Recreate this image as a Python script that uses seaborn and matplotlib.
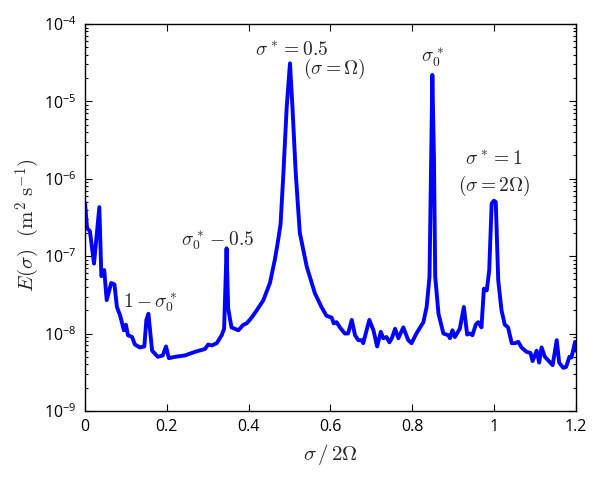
import numpy as np
import pandas as pd
import matplotlib
matplotlib.use("Agg")
import matplotlib.pyplot as plt
import seaborn as sns
from matplotlib.ticker import LogLocator, FixedLocator, NullFormatter

freq = [0.000, 0.005, 0.012, 0.022, 0.035, 0.040, 0.047, 0.053, 0.064, 0.072,
        0.078, 0.086, 0.095, 0.100, 0.105, 0.115, 0.122, 0.134, 0.145, 0.150,
        0.155, 0.159, 0.164, 0.178, 0.190, 0.198, 0.205, 0.220, 0.244, 0.269,
        0.293, 0.301, 0.310, 0.322, 0.334, 0.340, 0.346, 0.350, 0.358, 0.375,
        0.387, 0.395, 0.407, 0.420, 0.436, 0.452, 0.464, 0.472, 0.478, 0.485,
        0.493, 0.501, 0.507, 0.515, 0.525, 0.542, 0.562, 0.578, 0.590, 0.603,
        0.608, 0.615, 0.623, 0.635, 0.643, 0.652, 0.660, 0.668, 0.676, 0.680,
        0.695, 0.705, 0.714, 0.723, 0.729, 0.737, 0.744, 0.750, 0.758, 0.766,
        0.778, 0.790, 0.798, 0.810, 0.827, 0.835, 0.842, 0.846, 0.849, 0.853,
        0.856, 0.864, 0.876, 0.888, 0.892, 0.898, 0.904, 0.916, 0.926, 0.934,
        0.941, 0.947, 0.955, 0.961, 0.969, 0.975, 0.982, 0.988, 0.994, 0.9995,
        1.004, 1.010, 1.018, 1.026, 1.034, 1.043, 1.051, 1.059, 1.067, 1.079,
        1.089, 1.094, 1.104, 1.110, 1.116, 1.124, 1.132, 1.143, 1.153, 1.159,
        1.169, 1.176, 1.184, 1.189, 1.198, 1.200]

energy = [4.9e-7, 2.3e-7, 2.1e-7, 8e-8, 4.3e-7, 5.5e-8, 6.6e-8, 2.7e-8, 4.5e-8, 4.3e-8,
          2.2e-8, 1.7e-8, 1.1e-8, 1.3e-8, 9.5e-9, 9e-9, 7.2e-9, 6.6e-9, 6.8e-9, 1.5e-8,
          1.8e-8, 1.1e-8, 6e-9, 5e-9, 5.2e-9, 6.8e-9, 4.8e-9, 5e-9, 5.2e-9, 5.8e-9,
          6.3e-9, 7.2e-9, 7e-9, 7.5e-9, 9.5e-9, 1.15e-8, 1.26e-7, 2.1e-8, 1.2e-8, 1.1e-8,
          1.3e-8, 1.35e-8, 1.6e-8, 2e-8, 2.7e-8, 4.5e-8, 9e-8, 1.6e-7, 2.6e-7, 1.2e-6,
          8.5e-6, 3.1e-5, 8.5e-6, 1.2e-6, 2e-7, 7.3e-8, 3.3e-8, 2.2e-8, 1.7e-8, 1.6e-8,
          1.35e-8, 1.4e-8, 1.2e-8, 1e-8, 1e-8, 1.5e-8, 9.5e-9, 8.2e-9, 8.2e-9, 7.5e-9,
          1.5e-8, 1.1e-8, 6.8e-9, 1.05e-8, 8.7e-9, 9e-9, 7.7e-9, 8.7e-9, 1.15e-8, 8.7e-9,
          1.2e-8, 8.2e-9, 7.5e-9, 1e-8, 1.4e-8, 2.2e-8, 5.4e-8, 1.75e-6, 2.2e-5, 1.75e-6,
          5.4e-8, 1.8e-8, 1e-8, 9.5e-9, 8.7e-9, 1.1e-8, 9e-9, 1.15e-8, 2.2e-8, 9.7e-9,
          1e-8, 9.5e-9, 1.3e-8, 1.4e-8, 1.2e-8, 3.8e-8, 3.6e-8, 6.6e-8, 4.8e-7, 5.2e-7,
          5e-7, 4.9e-8, 2e-8, 1.3e-8, 1.2e-8, 7.5e-9, 7.5e-9, 7.8e-9, 6.6e-9, 5.8e-9,
          5.6e-9, 4.4e-9, 6e-9, 4.2e-9, 6.6e-9, 5e-9, 4.5e-9, 3.9e-9, 8.2e-9, 4.2e-9,
          3.6e-9, 3.7e-9, 5e-9, 4.9e-9, 7.8e-9, 6e-9]

xticks = [0, 0.2, 0.4, 0.6, 0.8, 1.0, 1.2]
xticklabels = ["0", "0.2", "0.4", "0.6", "0.8", "1", "1.2"]

sns.set_style("ticks")
plt.rcParams['font.family'] = ['Open Sans', 'DejaVu Sans']
plt.rcParams['mathtext.fontset'] = 'custom'
plt.rcParams['mathtext.rm'] = 'Open Sans'
plt.rcParams['mathtext.it'] = 'Open Sans:italic'

fig = plt.figure(figsize=(6.16, 4.8), dpi=100)
ax = fig.add_axes([0.138, 0.144, 0.797, 0.806])

df = pd.DataFrame({"f": freq, "E": energy})
sns.lineplot(data=df, x="f", y="E", ax=ax, color="#0000ff", lw=2.8,
             estimator=None, sort=False)

ax.set_yscale("log")
ax.set_xlim(0, 1.2)
ax.set_ylim(1e-9, 1e-4)
ax.xaxis.set_major_locator(FixedLocator(xticks))
ax.set_xticklabels(xticklabels)
ax.yaxis.set_major_locator(LogLocator(base=10, numticks=10))
ax.yaxis.set_minor_locator(LogLocator(base=10, subs=np.arange(2, 10), numticks=20))
ax.yaxis.set_minor_formatter(NullFormatter())
ax.xaxis.set_minor_formatter(NullFormatter())

for s in ax.spines.values():
    s.set_visible(True)
    s.set_color("black")
    s.set_linewidth(1.0)

ax.tick_params(which="both", direction="in", top=True, right=True, colors="black",
               labelsize=11.5, width=0.8)
ax.tick_params(which="major", length=5, pad=6)
ax.tick_params(which="minor", length=2.5)
ax.tick_params(axis="x", which="minor", top=False, bottom=False)

ax.set_xlabel(r"$\sigma\,/\,2\Omega$", fontsize=15, math_fontfamily="cm")
ax.set_ylabel(r"$E(\sigma)\ \ (\mathrm{m}^2\ \mathrm{s}^{-1})$", fontsize=15,
              math_fontfamily="cm")
ax.xaxis.set_label_coords(0.5, -0.08)
ax.yaxis.set_label_coords(-0.088, 0.48)

tk = dict(fontsize=14, math_fontfamily="cm", ha="center", va="center")
ax.text(0.505, 4.6e-5, r"$\sigma^* = 0.5$", **tk)
ax.text(0.61, 2.65e-5, r"$(\sigma = \Omega)$", **tk)
ax.text(0.85, 3.6e-5, r"$\sigma_0^*$", **tk)
ax.text(1.0, 1.8e-6, r"$\sigma^* = 1$", **tk)
ax.text(1.0, 8.0e-7, r"$(\sigma = 2\Omega)$", **tk)
ax.text(0.325, 1.6e-7, r"$\sigma_0^* - 0.5$", **tk)
ax.text(0.16, 2.55e-8, r"$1 - \sigma_0^*$", **tk)

fig.savefig("out.png", dpi=100)
